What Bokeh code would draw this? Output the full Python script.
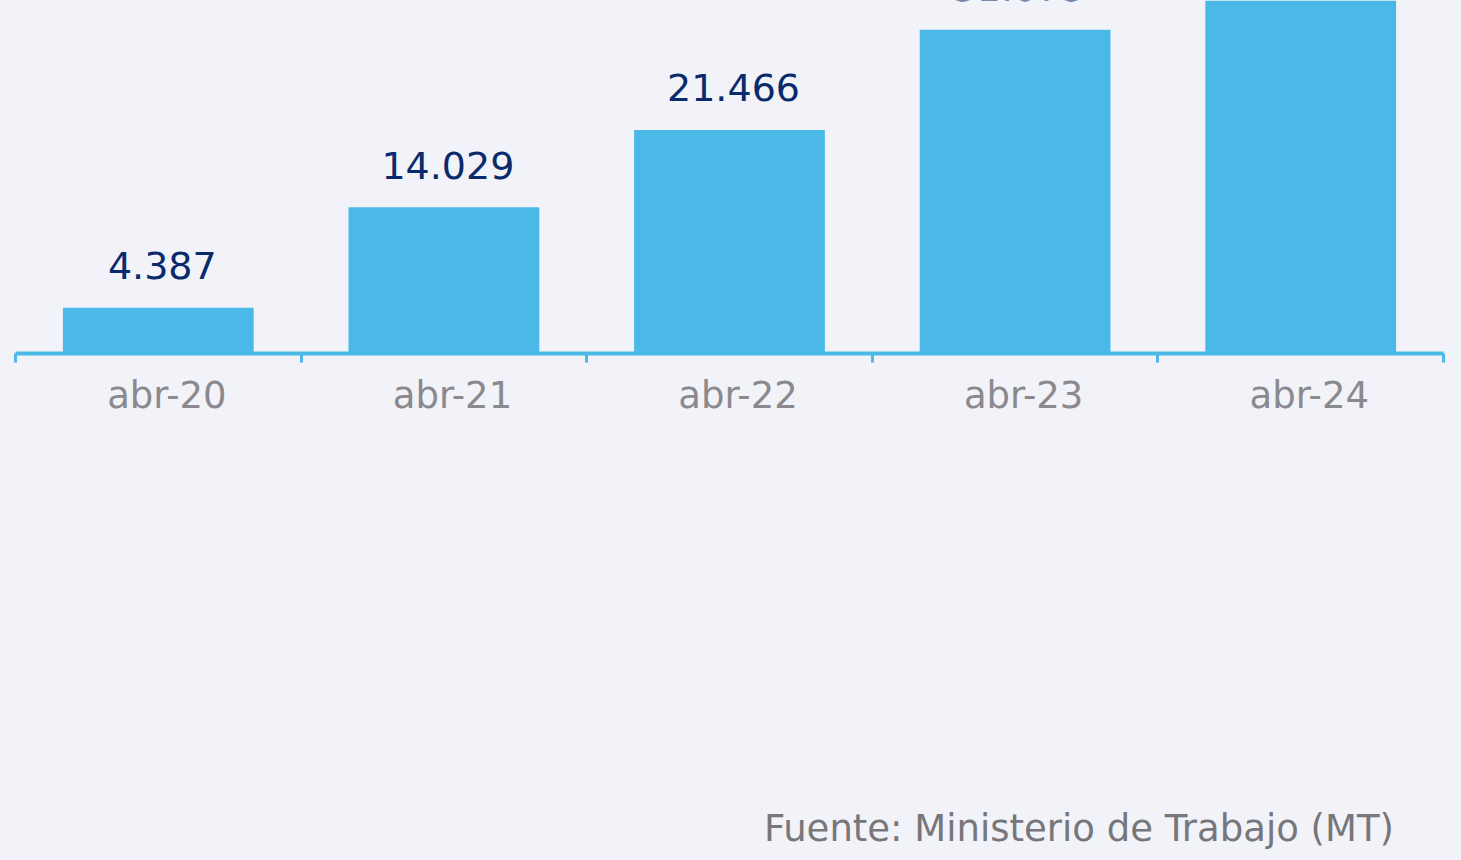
from bokeh.plotting import figure
from bokeh.models import (ColumnDataSource, Range1d, FixedTicker, Div,
                          GlobalInlineStyleSheet, CustomJSTickFormatter)
from bokeh.layouts import column
from bokeh.embed import file_html
from bokeh.resources import INLINE
from bokeh.core.properties import value

# ---- data ----
categories = ["abr-20", "abr-21", "abr-22", "abr-23", "abr-24"]
values = [4387, 14029, 21466, 31075, 37500]
value_labels = ["4.387", "14.029", "21.466", "31.075", "37.500"]
source_note = "Fuente: Ministerio de Trabajo (MT)"

BG = "#f2f3f9"
BAR = "#4bb9e8"
NAVY = "#0b2a6b"
GREY = "#8a898d"

xs = [i + 0.5 for i in range(len(categories))]
src = ColumnDataSource(dict(x=xs, top=values, label=value_labels))

p = figure(width=1461, height=432,
           x_range=Range1d(0, len(categories)), y_range=Range1d(0, 33888),
           output_backend="svg", toolbar_location=None,
           min_border_left=15, min_border_right=18,
           min_border_top=0, min_border_bottom=79,
           y_axis_location=None,
           background_fill_color=BG, border_fill_color=BG,
           outline_line_color=None)
p.xgrid.visible = False
p.ygrid.visible = False

p.vbar(x="x", top="top", bottom=0, width=0.668, source=src,
       fill_color=BAR, line_color=None)

p.text(x="x", y="top", text="label", source=src,
       text_align="center", text_baseline="alphabetic",
       x_offset=4, y_offset=-42,
       text_font=value("DejaVu Sans"), text_font_size="38px",
       text_color=NAVY)

ax = p.xaxis[0]
ax.ticker = FixedTicker(ticks=[i + 0.53 for i in range(len(categories))],
                        minor_ticks=list(range(len(categories) + 1)))
ax.formatter = CustomJSTickFormatter(args=dict(cats=categories),
                                     code="return cats[Math.floor(tick)] || '';")
ax.axis_line_color = BAR
ax.axis_line_width = 4
ax.major_tick_line_color = None
ax.major_tick_in = 0
ax.major_tick_out = 0
ax.minor_tick_line_color = BAR
ax.minor_tick_line_width = 3
ax.minor_tick_in = 0
ax.minor_tick_out = 9
ax.major_label_standoff = 11
ax.major_label_text_font = "DejaVu Sans"
ax.major_label_text_font_size = "37px"
ax.major_label_text_color = GREY

note = Div(
    text=('<div style="position:absolute;right:72px;top:370px;'
          'font-family:\'DejaVu Sans\';font-size:37px;color:#77767a;'
          'white-space:nowrap;line-height:normal">' + source_note + '</div>'),
    width=1461, height=428,
    styles={"background-color": BG})

layout = column(p, note, spacing=0,
                stylesheets=[GlobalInlineStyleSheet(
                    css="html, body {margin:0; padding:0; background:#f2f3f9; overflow:hidden;}")])

open("out.html", "w").write(file_html(layout, INLINE))
